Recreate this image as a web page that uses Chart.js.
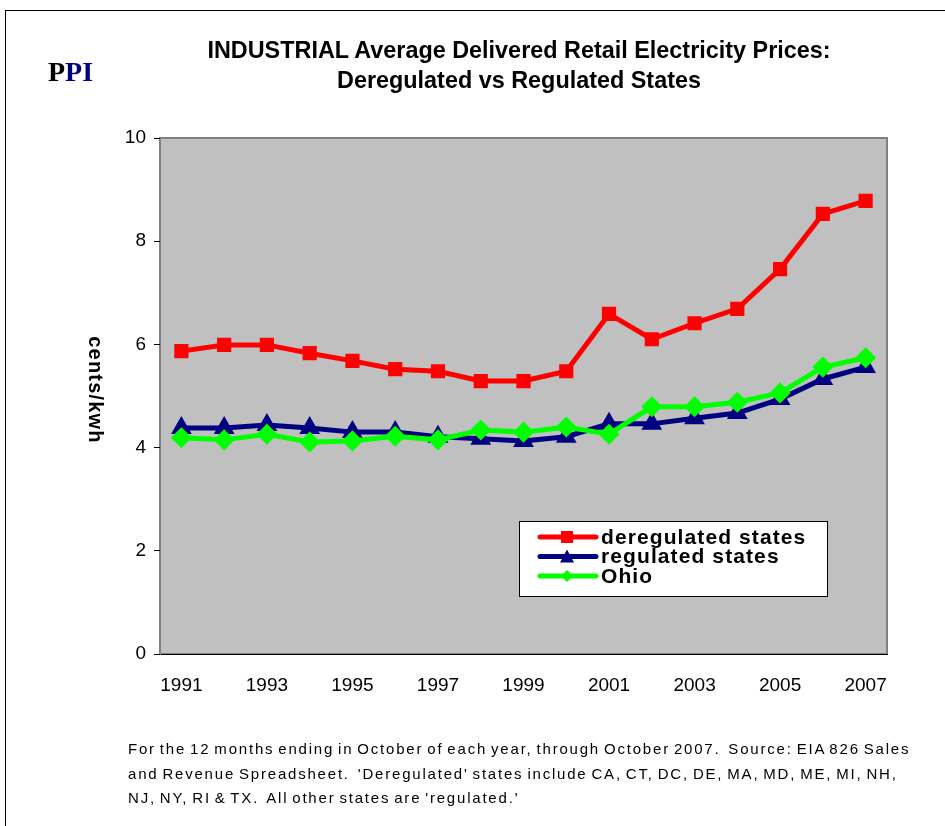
<!DOCTYPE html>
<html>
<head>
<meta charset="utf-8">
<script src="https://cdn.jsdelivr.net/npm/chart.js@4"></script>
<style>
  body { margin: 0; background: #fff; font-family: Arial, "Liberation Sans", sans-serif; }
  #page { position: relative; width: 945px; height: 826px; overflow: hidden; }
  #frame { position: absolute; left: 5px; top: 10px; width: 960px; height: 900px; border: 1px solid #000; }
  #priceChart { position: absolute; left: 0; top: 0; }
  #title { position: absolute; left: 169px; width: 700px; top: 35px; text-align: center;
           font-weight: bold; font-size: 23.4px; line-height: 30px; color: #000; }
  #logo { position: absolute; left: 48px; top: 56px; font-family: "Liberation Serif", "Times New Roman", serif;
          font-weight: bold; font-size: 28px; }
  #note { position: absolute; left: 128px; top: 737px; font-size: 15px; line-height: 24.5px;
          letter-spacing: 1.8px; word-spacing: -2px; color: #000; white-space: nowrap; }
</style>
</head>
<body>
<div id="page">
  <div id="frame"></div>
  <canvas id="priceChart" width="945" height="826"></canvas>
  <div id="logo"><span style="color:#000">P</span><span style="color:#000080">PI</span></div>
  <div id="title">INDUSTRIAL Average Delivered Retail Electricity Prices:<br>Deregulated vs Regulated States</div>
  <div id="note">For the 12 months ending in October of each year, through October 2007.&nbsp; Source: EIA 826 Sales<br>and Revenue Spreadsheet.&nbsp; 'Deregulated' states include CA, CT, DC, DE, MA, MD, ME, MI, NH,<br>NJ, NY, RI &amp; TX.&nbsp; All other states are 'regulated.'</div>
</div>

<script>
// Data
const years = ['1991', '1992', '1993', '1994', '1995', '1996', '1997', '1998', '1999',
               '2000', '2001', '2002', '2003', '2004', '2005', '2006', '2007'];
const deregulated = [5.87, 5.99, 5.99, 5.83, 5.68, 5.52, 5.48, 5.29, 5.29,
                     5.48, 6.59, 6.10, 6.41, 6.69, 7.46, 8.53, 8.78];
const regulated = [4.38, 4.38, 4.44, 4.38, 4.30, 4.30, 4.21, 4.17, 4.13,
                   4.21, 4.46, 4.46, 4.57, 4.67, 4.94, 5.33, 5.56];
const ohio = [4.19, 4.15, 4.26, 4.11, 4.13, 4.22, 4.15, 4.34, 4.30,
              4.40, 4.26, 4.79, 4.79, 4.88, 5.06, 5.56, 5.74];
const yTicks = [0, 2, 4, 6, 8, 10];

// Gray plot area with a thin gray frame
const plotArea = {
  id: 'plotArea',
  beforeDraw(chart) {
    const { ctx, chartArea: a } = chart;
    ctx.save();
    ctx.fillStyle = '#c0c0c0';
    ctx.fillRect(a.left, a.top, a.right - a.left, a.bottom - a.top);
    ctx.strokeStyle = '#808080';
    ctx.lineWidth = 2;
    ctx.strokeRect(a.left, a.top, a.right - a.left, a.bottom - a.top);
    ctx.restore();
  }
};

// Y axis title, read top to bottom like the original
const yTitle = {
  id: 'yTitle',
  afterDraw(chart) {
    const { ctx, chartArea: a } = chart;
    ctx.save();
    ctx.translate(95, (a.top + a.bottom) / 2 - 6);
    ctx.rotate(Math.PI / 2);
    ctx.font = 'bold 20px Arial, "Liberation Sans"';
    ctx.letterSpacing = '1.2px';
    ctx.fillStyle = '#000';
    ctx.textAlign = 'center';
    ctx.textBaseline = 'middle';
    ctx.fillText('cents/kwh', 0, 0);
    ctx.restore();
  }
};

// Boxed legend inside the plot, drawn from the dataset styles
const boxLegend = {
  id: 'boxLegend',
  afterDraw(chart) {
    const { ctx } = chart;
    const x = 519, y = 521, w = 308, h = 75;
    ctx.save();
    ctx.fillStyle = '#fff';
    ctx.fillRect(x, y, w, h);
    ctx.strokeStyle = '#000';
    ctx.lineWidth = 1;
    ctx.strokeRect(x + 0.5, y + 0.5, w, h);
    chart.data.datasets.forEach((ds, i) => {
      const cy = y + 16 + i * 19.5;
      ctx.strokeStyle = ds.borderColor;
      ctx.lineWidth = 5;
      ctx.lineCap = 'round';
      ctx.beginPath();
      ctx.moveTo(540, cy);
      ctx.lineTo(596, cy);
      ctx.stroke();
      ctx.fillStyle = ds.pointBackgroundColor;
      const r = 6;
      ctx.beginPath();
      if (ds.pointStyle === 'rect') {
        ctx.rect(567 - r, cy - r, 2 * r, 2 * r);
      } else if (ds.pointStyle === 'triangle') {
        ctx.moveTo(567, cy - r - 1);
        ctx.lineTo(567 + r + 1, cy + r);
        ctx.lineTo(567 - r - 1, cy + r);
        ctx.closePath();
      } else {
        ctx.moveTo(567, cy - r);
        ctx.lineTo(567 + r, cy);
        ctx.lineTo(567, cy + r);
        ctx.lineTo(567 - r, cy);
        ctx.closePath();
      }
      ctx.fill();
      ctx.fillStyle = '#000';
      ctx.font = 'bold 21px Arial, "Liberation Sans"';
      ctx.letterSpacing = '1.1px';
      ctx.textBaseline = 'middle';
      ctx.textAlign = 'left';
      ctx.fillText(ds.label, 601, cy + 1);
      ctx.letterSpacing = '0px';
    });
    ctx.restore();
  }
};

const ctx = document.getElementById('priceChart');
new Chart(ctx, {
  type: 'line',
  data: {
    labels: years,
    datasets: [{
      label: 'deregulated states',
      data: deregulated,
      borderColor: '#ff0000',
      backgroundColor: '#ff0000',
      pointBackgroundColor: '#ff0000',
      pointBorderColor: '#ff0000',
      pointStyle: 'rect',
      pointRadius: 6.5,
      borderWidth: 5,
      order: 2
    }, {
      label: 'regulated states',
      data: regulated,
      borderColor: '#000080',
      backgroundColor: '#000080',
      pointBackgroundColor: '#000080',
      pointBorderColor: '#000080',
      pointStyle: 'triangle',
      pointRadius: 7,
      borderWidth: 5,
      order: 1
    }, {
      label: 'Ohio',
      data: ohio,
      borderColor: '#00ff00',
      backgroundColor: '#00ff00',
      pointBackgroundColor: '#00ff00',
      pointBorderColor: '#00ff00',
      pointStyle: 'rectRot',
      pointRadius: 7,
      borderWidth: 5,
      order: 0
    }]
  },
  options: {
    responsive: false,
    animation: false,
    devicePixelRatio: 1,
    layout: {
      padding: { left: 80, top: 138, right: 58, bottom: 122 }
    },
    plugins: {
      legend: { display: false },
      tooltip: { enabled: false }
    },
    scales: {
      x: {
        offset: true,
        afterFit(scale) { scale.height = 50; },
        grid: { display: false, drawTicks: false },
        border: { color: '#000', width: 1 },
        ticks: {
          autoSkip: false,
          maxRotation: 0,
          padding: 20,
          color: '#000',
          font: { family: 'Arial, "Liberation Sans"', size: 19 },
          callback: (v, i) => (i % 2 === 0 ? years[i] : '')
        }
      },
      y: {
        min: 0,
        max: 10,
        afterFit(scale) { scale.width = 80; },
        afterBuildTicks(scale) { scale.ticks = yTicks.map(v => ({ value: v })); },
        grid: { drawOnChartArea: false, tickLength: 6, color: '#000' },
        border: { color: '#808080', width: 1 },
        ticks: {
          padding: 8,
          color: '#000',
          font: { family: 'Arial, "Liberation Sans"', size: 19 }
        }
      }
    }
  },
  plugins: [plotArea, yTitle, boxLegend]
});
</script>
</body>
</html>
